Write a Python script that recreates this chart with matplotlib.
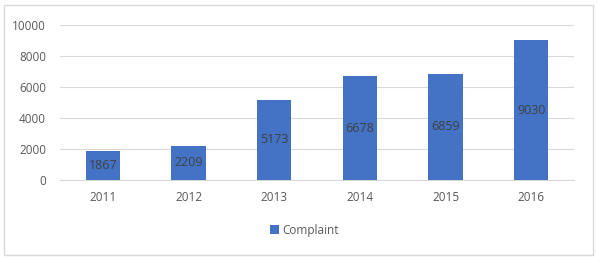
import matplotlib.pyplot as plt
from matplotlib.patches import Rectangle

# data
years = ['2011', '2012', '2013', '2014', '2015', '2016']
complaints = [1867, 2209, 5173, 6678, 6859, 9030]

plt.rcParams['font.family'] = ['Open Sans', 'DejaVu Sans']

fig = plt.figure(figsize=(5.97, 2.57), dpi=100)
ax = fig.add_axes([0.1005, 0.2996, 0.861, 0.6031])

# outer chart border like Excel
fig.patches.append(Rectangle((0.006, 0.008), 0.988, 0.972, transform=fig.transFigure,
                             fill=False, edgecolor='#D9D9D9', linewidth=1))

x = range(len(years))
bars = ax.bar(x, complaints, width=0.4, color='#4472C4', label='Complaint', zorder=3)

for b, v in zip(bars, complaints):
    ax.text(b.get_x() + b.get_width() / 2, v / 2, str(v), ha='center', va='center',
            fontsize=9, color='#404040', zorder=4)

ax.set_xlim(-0.5, len(years) - 0.5)
ax.set_ylim(0, 10000)
ax.set_yticks(range(0, 10001, 2000))
ax.set_xticks(list(x))
ax.set_xticklabels(years)
ax.grid(axis='y', color='#D9D9D9', linewidth=0.8, zorder=0)
for s in ['top', 'right', 'left']:
    ax.spines[s].set_visible(False)
ax.spines['bottom'].set_color('#D9D9D9')
ax.tick_params(axis='both', length=0, labelsize=8.5, colors='#595959')
ax.tick_params(axis='x', pad=8)
ax.tick_params(axis='y', pad=10)

fig.legend(loc='center', bbox_to_anchor=(0.51, 0.105), frameon=False, fontsize=8.5,
           handlelength=0.7, handleheight=0.7, handletextpad=0.3, labelcolor='#595959')

fig.savefig('out.png', dpi=100)
